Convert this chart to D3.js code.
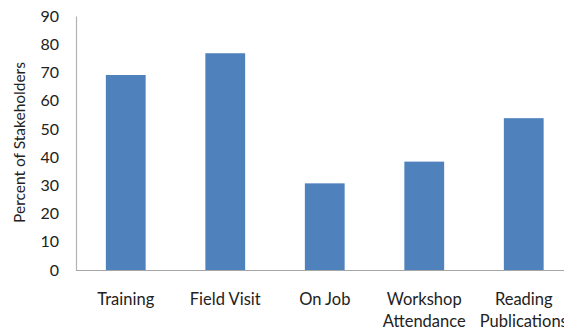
<!DOCTYPE html>
<html>
<head>
<meta charset="utf-8">
<script src="https://cdn.jsdelivr.net/npm/d3@7"></script>
<style>
  html, body { margin: 0; padding: 0; background: #fff; }
  svg { display: block; font-family: Lato, "Open Sans", sans-serif; }
</style>
</head>
<body>
<svg id="chart" width="564" height="328"></svg>
<script>
// Ways stakeholders get information (percent)
const categories = ["Training", "Field Visit", "On Job", "Workshop Attendance", "Reading Publications"];
const categoryLines = [["Training"], ["Field Visit"], ["On Job"], ["Workshop", "Attendance"], ["Reading", "Publications"]];
const values = [69.1, 76.8, 30.7, 38.4, 53.8];
const yTicks = [0, 10, 20, 30, 40, 50, 60, 70, 80, 90];
const yTitle = "Percent of Stakeholders";

const svg = d3.select("#chart");
const plotLeft = 76, plotRight = 573.5, plotTop = 16, plotBottom = 270;

const x = d3.scaleBand().domain(categories).range([plotLeft, plotRight]).paddingInner(0.6).paddingOuter(0.3);
const y = d3.scaleLinear().domain([0, 90]).range([plotBottom, plotTop]);

// bars
svg.append("g").selectAll("rect")
  .data(categories)
  .join("rect")
  .attr("x", d => x(d))
  .attr("width", x.bandwidth())
  .attr("y", (d, i) => y(values[i]))
  .attr("height", (d, i) => y(0) - y(values[i]))
  .attr("fill", "#4f81bd");

// y axis
const yAxis = svg.append("g")
  .attr("transform", `translate(${plotLeft},0)`)
  .call(d3.axisLeft(y).tickValues(yTicks).tickSize(0).tickPadding(17));
yAxis.select(".domain").attr("stroke", "#b3b3b3").attr("stroke-width", 1.2);
yAxis.selectAll("text").attr("font-size", 16).attr("fill", "#222").attr("font-family", "Lato, sans-serif");

// x axis
const xAxis = svg.append("g")
  .attr("transform", `translate(0,${plotBottom})`)
  .call(d3.axisBottom(x).tickSize(0).tickPadding(0));
xAxis.select(".domain").attr("stroke", "#a6a6a6").attr("stroke-width", 1.2).attr("d", `M${plotLeft},0.5H564`);
xAxis.selectAll(".tick text").remove();
xAxis.selectAll(".tick").each(function(d) {
  const lines = categoryLines[categories.indexOf(d)];
  const t = d3.select(this).append("text")
    .attr("text-anchor", "middle")
    .attr("font-size", 16.5)
    .attr("fill", "#222")
    .attr("font-family", "Lato, sans-serif");
  lines.forEach((w, i) => {
    t.append("tspan").attr("x", 0).attr("y", 35 + i * 21.5).text(w);
  });
});

// y title
svg.append("text")
  .attr("transform", `translate(25,${142.5}) rotate(-90)`)
  .attr("text-anchor", "middle")
  .attr("font-size", 15.5)
  .attr("fill", "#222")
  .text(yTitle);
</script>
</body>
</html>
